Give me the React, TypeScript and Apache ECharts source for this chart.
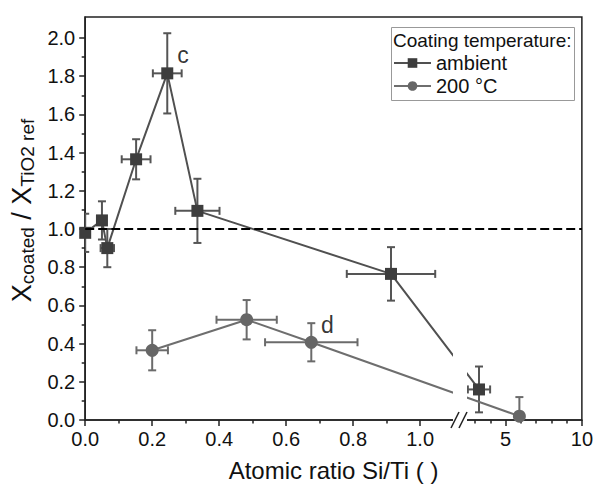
import React, { useEffect, useRef } from 'react';
import * as echarts from 'echarts';

const FONT = '"Liberation Sans", Arial, Helvetica, sans-serif';

const seriesNames = ['ambient', '200 °C'];

// ambient coating
const ambientX = [0.0, 0.05, 0.066, 0.152, 0.245, 0.335, 0.913, 3.25];
const ambientY = [0.98, 1.045, 0.9, 1.365, 1.815, 1.095, 0.765, 0.16];
const ambientXErr = [0, 0, 0.02, 0.043, 0.043, 0.066, 0.132, 0.73];
const ambientYErr = [0.1, 0.1, 0.1, 0.105, 0.21, 0.168, 0.14, 0.12];

// 200 °C coating
const hotX = [0.2, 0.482, 0.675, 5.9];
const hotY = [0.365, 0.525, 0.407, 0.02];
const hotXErr = [0.047, 0.09, 0.138, 0];
const hotYErr = [0.105, 0.103, 0.1, 0.1];

const refLineY = 1.0;

const annotLabels = ['c', 'd'];
const annotX = [0.292, 0.723];
const annotY = [1.912, 0.498];

const xTickValues = [0, 0.2, 0.4, 0.6, 0.8, 1.0, 5, 10];
const xTickLabels = ['0.0', '0.2', '0.4', '0.6', '0.8', '1.0', '5', '10'];
const xMinorValues = [0.1, 0.3, 0.5, 0.7, 0.9, 3, 4, 6, 7, 8, 9];
const yTickValues = [0, 0.2, 0.4, 0.6, 0.8, 1.0, 1.2, 1.4, 1.6, 1.8, 2.0];
const yTickLabels = ['0.0', '0.2', '0.4', '0.6', '0.8', '1.0', '1.2', '1.4', '1.6', '1.8', '2.0'];
const yMinorValues = [0.1, 0.3, 0.5, 0.7, 0.9, 1.1, 1.3, 1.5, 1.7, 1.9];
const yMax = 2.11;

// broken x axis: 0..1.1 linear, then 2..10 compressed
const BREAK_START = 1.1;
const BREAK_END = 2;
const BREAK_END_POS = 1.1188;
const RIGHT_UNIT = 0.04551;
const tx = (x: number) => (x <= BREAK_START ? x : BREAK_END_POS + (x - BREAK_END) * RIGHT_UNIT);
const xMaxT = tx(10);

const errRows = (xs: number[], ys: number[], xe: number[], ye: number[]) =>
  xs.map((x, i) => [tx(x), ys[i], tx(x - xe[i]), tx(x + xe[i]), ys[i] - ye[i], ys[i] + ye[i]]);

const makeErrRender = (color: string) => (params: any, api: any) => {
  const x = api.value(0), y = api.value(1);
  const xl = api.value(2), xh = api.value(3), yl = api.value(4), yh = api.value(5);
  const top = api.coord([x, yh]);
  const bot = api.coord([x, yl]);
  const cap = 4;
  const style = { stroke: color, lineWidth: 2, fill: 'none' };
  const children: any[] = [
    { type: 'line', shape: { x1: top[0], y1: top[1], x2: bot[0], y2: bot[1] }, style },
    { type: 'line', shape: { x1: top[0] - cap, y1: top[1], x2: top[0] + cap, y2: top[1] }, style },
    { type: 'line', shape: { x1: bot[0] - cap, y1: bot[1], x2: bot[0] + cap, y2: bot[1] }, style },
  ];
  if (xh - xl > 1e-9) {
    const l = api.coord([xl, y]);
    const r = api.coord([xh, y]);
    children.push(
      { type: 'line', shape: { x1: l[0], y1: l[1], x2: r[0], y2: r[1] }, style },
      { type: 'line', shape: { x1: l[0], y1: l[1] - cap, x2: l[0], y2: l[1] + cap }, style },
      { type: 'line', shape: { x1: r[0], y1: r[1] - cap, x2: r[0], y2: r[1] + cap }, style }
    );
  }
  return { type: 'group', children };
};

const AXIS_COLOR = '#222';
const TEXT_COLOR = '#111';

export default function App() {
  const ref = useRef<HTMLDivElement>(null);
  useEffect(() => {
    document.body.style.margin = '0';
    if (!ref.current) return;
    const chart = echarts.init(ref.current, undefined, { renderer: 'svg' });
    const xMajorT = xTickValues.map(tx);
    const xMinorT = xMinorValues.map(tx);
    const option: any = {
      animation: false,
      backgroundColor: '#fff',
      grid: { left: 85, right: 12, top: 17, bottom: 72, show: true, borderColor: AXIS_COLOR, borderWidth: 1.5, backgroundColor: 'transparent' },
      xAxis: [
        {
          type: 'value', min: 0, max: xMaxT, position: 'bottom',
          axisLine: { show: true, lineStyle: { color: AXIS_COLOR, width: 1.5 } },
          axisTick: { show: true, customValues: xMajorT, length: 6, lineStyle: { color: AXIS_COLOR, width: 1.5 } },
          axisLabel: {
            customValues: xMajorT, margin: 9, fontSize: 20, color: TEXT_COLOR, fontFamily: FONT,
            formatter: (v: number) => {
              let best = 0;
              xMajorT.forEach((t, i) => { if (Math.abs(t - v) < Math.abs(xMajorT[best] - v)) best = i; });
              return xTickLabels[best];
            },
          },
          splitLine: { show: false },
          name: 'Atomic ratio Si/Ti ( )', nameLocation: 'middle', nameGap: 38,
          nameTextStyle: { fontSize: 24, color: TEXT_COLOR, fontFamily: FONT },
        },
        {
          type: 'value', min: 0, max: xMaxT, position: 'bottom',
          axisLine: { show: false },
          axisTick: { show: true, customValues: xMinorT, length: 3.5, lineStyle: { color: AXIS_COLOR, width: 1.5 } },
          axisLabel: { show: false },
          splitLine: { show: false },
        },
      ],
      yAxis: [
        {
          type: 'value', min: 0, max: yMax, position: 'left',
          axisLine: { show: true, lineStyle: { color: AXIS_COLOR, width: 1.5 } },
          axisTick: { show: true, customValues: yTickValues, length: 6, lineStyle: { color: AXIS_COLOR, width: 1.5 } },
          axisLabel: {
            customValues: yTickValues, margin: 10, fontSize: 20, color: TEXT_COLOR, fontFamily: FONT,
            formatter: (v: number) => {
              let best = 0;
              yTickValues.forEach((t, i) => { if (Math.abs(t - v) < Math.abs(yTickValues[best] - v)) best = i; });
              return yTickLabels[best];
            },
          },
          splitLine: { show: false },
          name: '{x|X}{s|coated}{x| / X}{s|TiO2 ref}',
          nameLocation: 'middle', nameRotate: 90, nameGap: 40,
          nameTextStyle: {
            color: TEXT_COLOR, fontFamily: FONT, padding: [0, 0, 0, 16],
            rich: {
              x: { fontSize: 27, lineHeight: 30, color: TEXT_COLOR, fontFamily: FONT },
              s: { fontSize: 19, lineHeight: 20, verticalAlign: 'bottom', color: TEXT_COLOR, fontFamily: FONT },
            },
          },
        },
        {
          type: 'value', min: 0, max: yMax, position: 'left',
          axisLine: { show: false },
          axisTick: { show: true, customValues: yMinorValues, length: 3.5, lineStyle: { color: AXIS_COLOR, width: 1.5 } },
          axisLabel: { show: false },
          splitLine: { show: false },
        },
      ],
      legend: {
        data: seriesNames, orient: 'vertical', left: 393, top: 53,
        itemWidth: 37, itemHeight: 12, itemGap: 3, padding: 0,
        textStyle: { fontSize: 20, color: TEXT_COLOR, fontFamily: FONT },
      },
      series: [
        {
          type: 'custom', name: 'ambient-err', xAxisIndex: 0, yAxisIndex: 0, z: 1, clip: true,
          encode: { x: 0, y: 1 },
          data: errRows(ambientX, ambientY, ambientXErr, ambientYErr),
          renderItem: makeErrRender('#555'),
          silent: true,
        },
        {
          type: 'custom', name: 'hot-err', xAxisIndex: 0, yAxisIndex: 0, z: 1, clip: true,
          encode: { x: 0, y: 1 },
          data: errRows(hotX, hotY, hotXErr, hotYErr),
          renderItem: makeErrRender('#6b6b6b'),
          silent: true,
        },
        {
          type: 'line', name: seriesNames[0], xAxisIndex: 0, yAxisIndex: 0, z: 3,
          data: ambientX.map((x, i) => [tx(x), ambientY[i]]),
          symbol: 'rect', symbolSize: 12, showAllSymbol: true,
          lineStyle: { color: '#505050', width: 2 },
          itemStyle: { color: '#3d3d3d' },
          markLine: {
            silent: true, symbol: 'none', label: { show: false },
            lineStyle: { color: '#000', type: [9, 4], width: 2 },
            data: [{ yAxis: refLineY }],
          },
        },
        {
          type: 'line', name: seriesNames[1], xAxisIndex: 0, yAxisIndex: 0, z: 3,
          data: hotX.map((x, i) => [tx(x), hotY[i]]),
          symbol: 'circle', symbolSize: 13, showAllSymbol: true,
          lineStyle: { color: '#6e6e6e', width: 2 },
          itemStyle: { color: '#666' },
        },
        {
          type: 'scatter', name: 'annot', xAxisIndex: 0, yAxisIndex: 0, z: 4,
          symbolSize: 1, itemStyle: { color: 'transparent' }, silent: true,
          data: annotX.map((x, i) => [tx(x), annotY[i], annotLabels[i]]),
          label: {
            show: true, position: 'inside', fontSize: 23, color: '#000', fontFamily: FONT,
            formatter: (p: any) => p.value[2],
          },
        },
      ],
      graphic: {
        elements: [
          {
            type: 'rect', z: 1,
            shape: { x: 391.5, y: 27.5, width: 183, height: 73 },
            style: { fill: '#fff', stroke: '#999', lineWidth: 1 },
          },
          {
            type: 'text', z: 10, left: 393, top: 31,
            style: { text: 'Coating temperature:', fontSize: 19, fill: TEXT_COLOR, fontFamily: FONT },
          },
          {
            type: 'rect', z: 100,
            shape: { x: 453, y: 330, width: 14, height: 96 },
            style: { fill: '#fff', stroke: 'none' },
          },
          {
            type: 'line', z: 101,
            shape: { x1: 451, y1: 428, x2: 459, y2: 412 },
            style: { stroke: AXIS_COLOR, lineWidth: 1.5 },
          },
          {
            type: 'line', z: 101,
            shape: { x1: 459, y1: 428, x2: 467, y2: 412 },
            style: { stroke: AXIS_COLOR, lineWidth: 1.5 },
          },
        ],
      },
    };
    chart.setOption(option);
    return () => chart.dispose();
  }, []);
  return <div ref={ref} style={{ position: 'fixed', left: 0, top: 0, width: 596, height: 492 }} />;
}
